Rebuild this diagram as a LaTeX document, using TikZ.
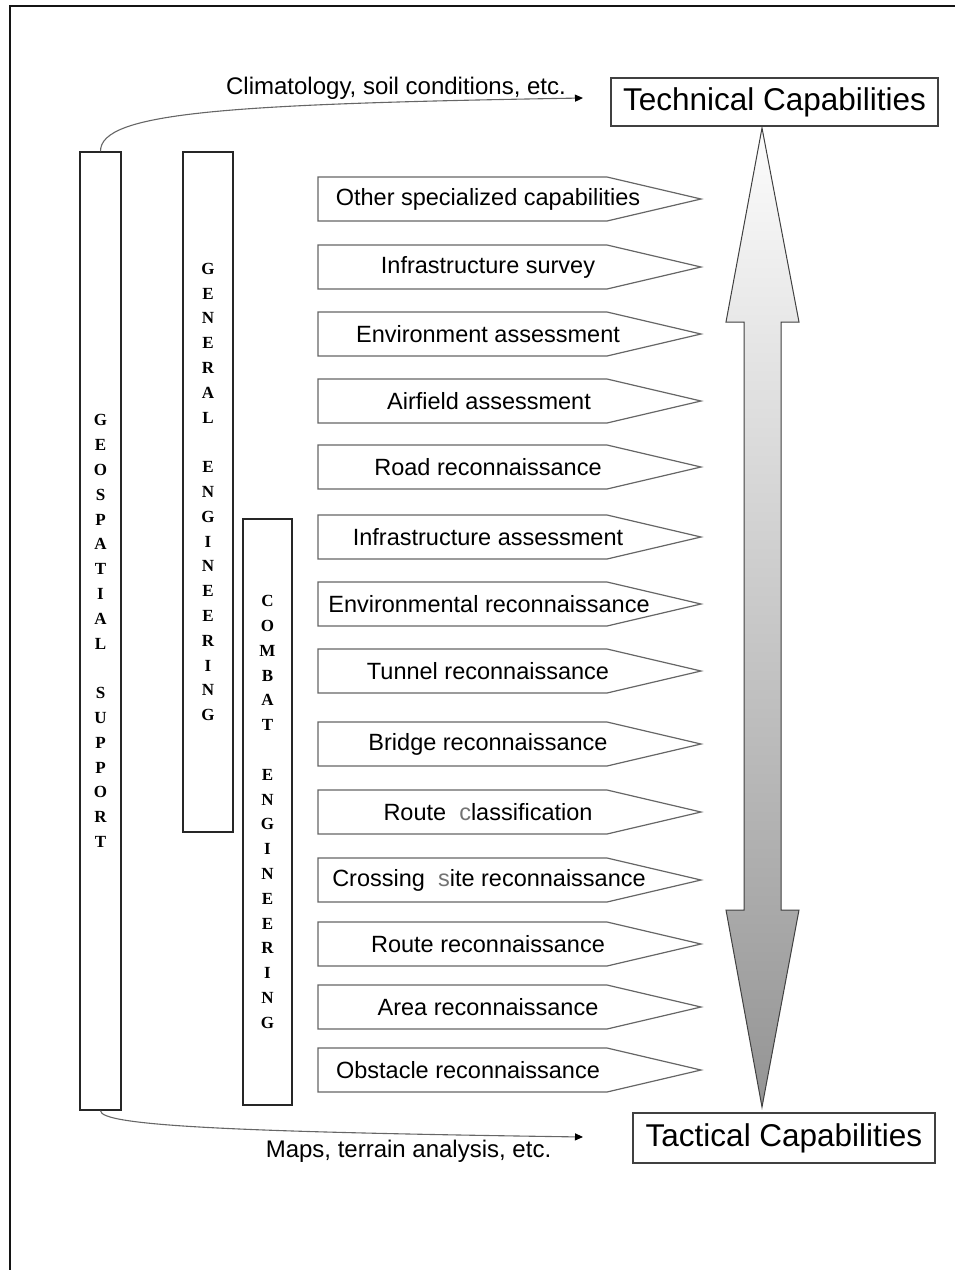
\documentclass[tikz,border=0pt]{standalone}
\usepackage{fontspec}
\setmainfont{Liberation Sans}
\newfontfamily\barfont{Liberation Serif}
\usetikzlibrary{arrows.meta}
\begin{document}
\begin{tikzpicture}[x=1pt,y=-1pt,
  frame/.style={line width=2.6pt, draw=black!92},
  bar/.style={draw=black!85, line width=1.3pt, fill=white, inner sep=0pt,
    align=center, font=\barfont\bfseries\fontsize{17}{24.8}\selectfont},
  capbox/.style={draw=black!75, line width=1.4pt, fill=white, inner sep=0pt},
  tagshape/.style={draw=black!60, line width=1.2pt, fill=white},
  taglabel/.style={inner sep=0pt, font=\fontsize{23.5}{28}\selectfont},
  note/.style={inner sep=0pt, font=\fontsize{24}{28}\selectfont},
  link/.style={draw=black!60, line width=1.1pt,
    -{Triangle[length=8pt,width=7pt,color=black]}},
  scaleshaft/.style={draw=black!75, line width=1pt,
    top color=black!1, middle color=black!14, bottom color=black!42}]
\useasboundingbox (0,0) rectangle (955,1270);

% page frame (top and left edges)
\draw[frame] (9,6) -- (955,6);
\draw[frame] (10,5) -- (10,1270);

% vertical category bars
\node[bar, minimum width=41, minimum height=958] (geo) at (100.5,631)
  {G\\E\\O\\S\\P\\A\\T\\I\\A\\L\\\mbox{}\\S\\U\\P\\P\\O\\R\\T};
\node[bar, minimum width=50, minimum height=680] (gen) at (208,492)
  {G\\E\\N\\E\\R\\A\\L\\\mbox{}\\E\\N\\G\\I\\N\\E\\E\\R\\I\\N\\G};
\node[bar, minimum width=49, minimum height=586] (cbt) at (267.5,812)
  {C\\O\\M\\B\\A\\T\\\mbox{}\\E\\N\\G\\I\\N\\E\\E\\R\\I\\N\\G};

% end-point boxes
\node[capbox, minimum width=327, minimum height=48,
  font=\fontsize{31.5}{36}\selectfont] (tech) at (774.5,102)
  {Technical Capabilities};
\node[capbox, minimum width=302, minimum height=50,
  font=\fontsize{31.5}{36}\selectfont] (tact) at (784,1138)
  {Tactical Capabilities};

% shaded two-headed scale arrow
\path[scaleshaft] (762,128) -- (799,322) -- (781,322) -- (781,910) -- (799,910)
  -- (762,1107) -- (726,910) -- (744,910) -- (744,322) -- (726,322) -- cycle;

% capability tags
\foreach \i/\y/\tx/\txt in {
  1/199/488/{Other specialized capabilities},
  2/267/488/{Infrastructure survey},
  3/334/488/{Environment assessment},
  4/401/489/{Airfield assessment},
  5/467/488/{Road reconnaissance},
  6/537/488/{Infrastructure assessment},
  7/604/489/{Environmental reconnaissance},
  8/671/488/{Tunnel reconnaissance},
  9/744/488/{Bridge reconnaissance},
  10/812/488/{Route\ \ \textcolor{black!55}{c}lassification},
  11/880/489/{Crossing\ \ \textcolor{black!55}{s}ite reconnaissance},
  12/944/488/{Route reconnaissance},
  13/1007/488/{Area reconnaissance},
  14/1070/468/{Obstacle reconnaissance}} {
  \draw[tagshape] (318,\y-22) -- (607,\y-22) -- (701,\y) -- (607,\y+22)
    -- (318,\y+22) -- cycle;
  \node[taglabel] (tag\i) at (\tx,\y) {\txt};
}

% information flows out of geospatial support
\coordinate (upend) at (583,98);
\coordinate (downend) at (583,1137);
\draw[link] (geo.north) .. controls (100,112) and (230,104) .. (upend);
\draw[link] (geo.south) .. controls (100,1126) and (240,1132) .. (downend);
\node[note] (upnote) at (396,88) {Climatology, soil conditions, etc.};
\node[note] (downnote) at (408.5,1151) {Maps, terrain analysis, etc.};
\end{tikzpicture}
\end{document}
